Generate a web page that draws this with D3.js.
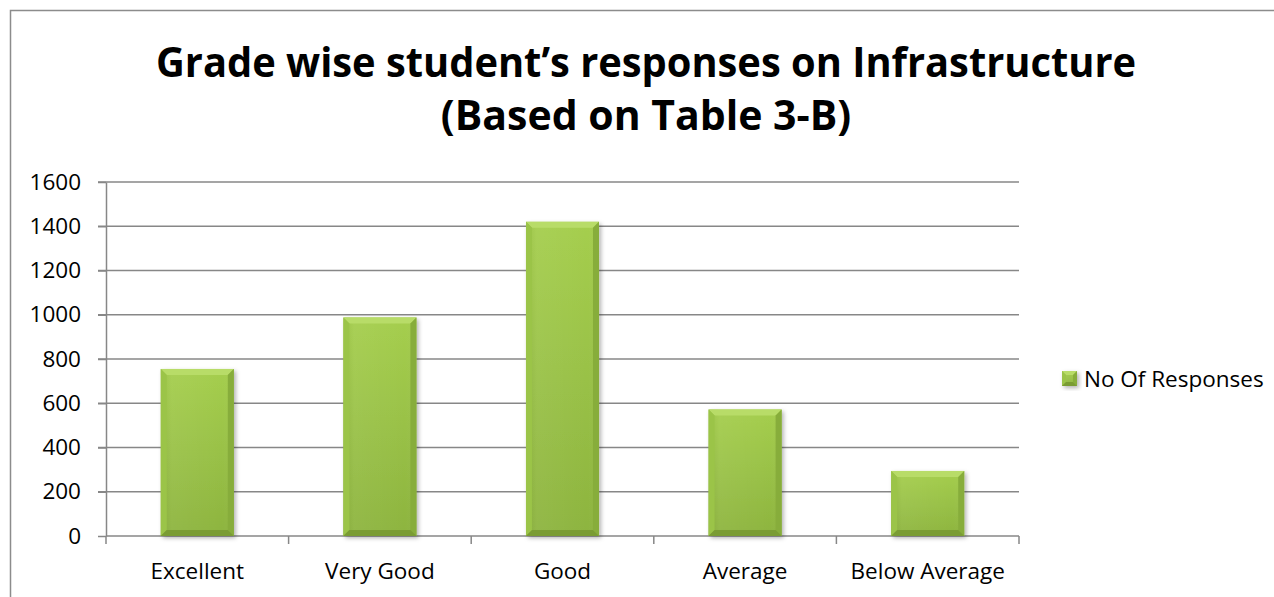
<!DOCTYPE html>
<meta charset="utf-8">
<style>
body { margin: 0; background: #fff; }
text { font-family: "Open Sans", sans-serif; fill: #000; }
.grid line { stroke: #878787; stroke-width: 1.5; }
.axis path, .axis line { stroke: #878787; stroke-width: 1.5; }
</style>
<svg width="1274" height="597"></svg>
<script src="https://cdnjs.cloudflare.com/ajax/libs/d3/7.8.5/d3.min.js"></script>
<script>

var categories = ["Excellent", "Very Good", "Good", "Average", "Below Average"];
var responses = [755, 988, 1420, 572, 294];
var seriesName = "No Of Responses";
var titleLines = ["Grade wise student\u2019s responses on Infrastructure", "(Based on Table 3-B)"];

var svg = d3.select("svg");

var margin = {left: 106, right: 1019, top: 182, bottom: 536};

// chart frame
svg.append("rect")
    .attr("x", 10.5).attr("y", 10.5)
    .attr("width", 1300).attr("height", 620)
    .attr("fill", "#fff")
    .attr("stroke", "#8c8c8c")
    .attr("stroke-width", 1.5);

var defs = svg.append("defs");

var face = defs.append("linearGradient")
    .attr("id", "face").attr("x1", 0).attr("y1", 0).attr("x2", 0).attr("y2", 1);
face.append("stop").attr("offset", "0%").attr("stop-color", "#a5ce4e");
face.append("stop").attr("offset", "100%").attr("stop-color", "#8db43f");

var side = defs.append("linearGradient")
    .attr("id", "sidefade").attr("x1", 0).attr("y1", 0).attr("x2", 1).attr("y2", 0);
side.append("stop").attr("offset", "0%").attr("stop-color", "#000").attr("stop-opacity", 0.05);
side.append("stop").attr("offset", "15%").attr("stop-color", "#fff").attr("stop-opacity", 0.05);
side.append("stop").attr("offset", "85%").attr("stop-color", "#fff").attr("stop-opacity", 0.0);
side.append("stop").attr("offset", "100%").attr("stop-color", "#000").attr("stop-opacity", 0.06);

var shadow = defs.append("filter").attr("id", "shadow")
    .attr("x", "-20%").attr("y", "-20%").attr("width", "150%").attr("height", "150%");
shadow.append("feDropShadow")
    .attr("dx", 2).attr("dy", 2).attr("stdDeviation", 2)
    .attr("flood-color", "#000").attr("flood-opacity", 0.3);

var x = d3.scaleBand()
    .domain(categories)
    .range([margin.left, margin.right])
    .paddingInner(0.6)
    .paddingOuter(0.3);

var y = d3.scaleLinear()
    .domain([0, 1600])
    .range([margin.bottom, margin.top]);

// gridlines
svg.append("g").attr("class", "grid")
  .selectAll("line")
  .data(y.ticks(8).filter(d => d > 0))
  .enter().append("line")
    .attr("x1", margin.left - 8).attr("x2", margin.right)
    .attr("y1", d => y(d)).attr("y2", d => y(d));

// y axis
var yAxis = svg.append("g").attr("class", "axis")
    .attr("transform", "translate(" + margin.left + ",0)")
    .call(d3.axisLeft(y).ticks(8).tickFormat(d3.format("d"))
      .tickSize(8).tickSizeOuter(0).tickPadding(17));
yAxis.selectAll("text").style("font-size", "22.5px");

// x axis: ticks at category boundaries
var xAxisG = svg.append("g").attr("class", "axis");
xAxisG.append("line")
    .attr("x1", margin.left).attr("x2", margin.right)
    .attr("y1", margin.bottom).attr("y2", margin.bottom);
var bounds = d3.range(categories.length + 1).map(i => margin.left + i * x.step());
xAxisG.selectAll(".tk")
  .data(bounds)
  .enter().append("line")
    .attr("class", "tk")
    .attr("x1", d => d).attr("x2", d => d)
    .attr("y1", margin.bottom).attr("y2", margin.bottom + 8);
xAxisG.selectAll("text")
  .data(categories)
  .enter().append("text")
    .attr("x", d => x(d) + x.bandwidth() / 2)
    .attr("y", 579)
    .attr("text-anchor", "middle")
    .style("font-size", "22.5px")
    .text(d => d);

// bevelled bars
function bevelBar(g, x0, y0, w, h, b) {
  g.append("rect")
      .attr("x", x0).attr("y", y0).attr("width", w).attr("height", h)
      .attr("fill", "url(#face)")
      .attr("filter", "url(#shadow)");
  g.append("rect")
      .attr("x", x0).attr("y", y0).attr("width", w).attr("height", h)
      .attr("fill", "url(#sidefade)");
  var x1 = x0 + w, y1 = y0 + h;
  g.append("polygon") // top
      .attr("points", [[x0, y0], [x1, y0], [x1 - b, y0 + b], [x0 + b, y0 + b]].join(" "))
      .attr("fill", "#b8dc68");
  g.append("polygon") // left
      .attr("points", [[x0, y0], [x0 + b, y0 + b], [x0 + b, y1 - b], [x0, y1]].join(" "))
      .attr("fill", "#9bc448");
  g.append("polygon") // right
      .attr("points", [[x1, y0], [x1 - b, y0 + b], [x1 - b, y1 - b], [x1, y1]].join(" "))
      .attr("fill", "#87ad3b");
  g.append("polygon") // bottom
      .attr("points", [[x0, y1], [x0 + b, y1 - b], [x1 - b, y1 - b], [x1, y1]].join(" "))
      .attr("fill", "#7a9c33");
}

var bars = svg.append("g").attr("class", "bars");
categories.forEach(function(c, i) {
  var g = bars.append("g");
  bevelBar(g, x(c), y(responses[i]), x.bandwidth(), y(0) - y(responses[i]), 6);
});

// legend
var legend = svg.append("g").attr("transform", "translate(1062,371)");
bevelBar(legend.append("g"), 0, 0, 15, 15, 4);
legend.append("text")
    .attr("x", 22).attr("y", 16)
    .style("font-size", "22.5px")
    .text(seriesName);

// title
var title = svg.append("g").attr("class", "title");
var titleWidths = [980, 480];
var titleBase = [77, 130];
titleLines.forEach(function(t, i) {
  var tx = title.append("text")
      .attr("x", 646).attr("y", titleBase[i])
      .attr("text-anchor", "middle")
      .style("font-size", "41px")
      .style("font-weight", "bold")
      .text(t);
  if (tx.node().getComputedTextLength() > titleWidths[i]) {
    tx.attr("textLength", titleWidths[i]).attr("lengthAdjust", "spacingAndGlyphs");
  }
});

</script>
